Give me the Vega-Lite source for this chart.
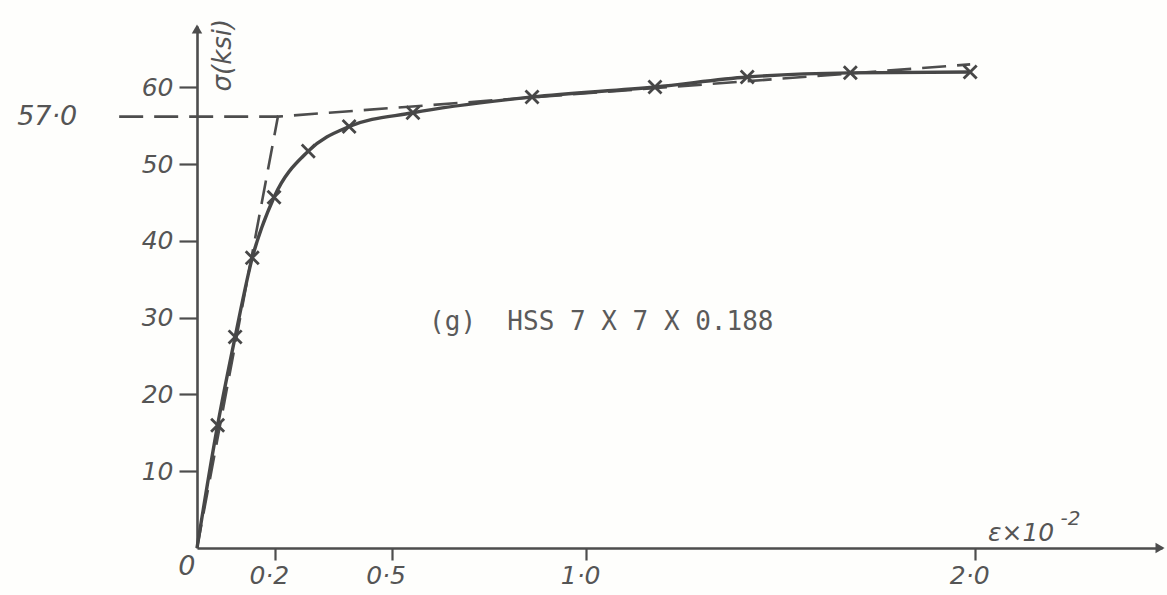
{
  "$schema": "https://vega.github.io/schema/vega-lite/v6.json",
  "width": 965,
  "height": 522,
  "autosize": {"type": "none"},
  "padding": {"left": 197, "top": 26, "right": 5, "bottom": 47},
  "background": "#fefefc",
  "config": {"view": {"stroke": null}},
  "datasets": {
    "curve": [
      {"strain": 0, "stress": 0},
      {"strain": 0.053, "stress": 16.0},
      {"strain": 0.098, "stress": 27.5},
      {"strain": 0.142, "stress": 37.8},
      {"strain": 0.198, "stress": 45.7},
      {"strain": 0.286, "stress": 51.7},
      {"strain": 0.391, "stress": 54.9},
      {"strain": 0.555, "stress": 56.7},
      {"strain": 0.861, "stress": 58.75},
      {"strain": 1.177, "stress": 60.05},
      {"strain": 1.414, "stress": 61.35},
      {"strain": 1.679, "stress": 61.9},
      {"strain": 1.987, "stress": 62.0}
    ],
    "bilinear": [
      {"seg": "model", "strain": 0, "stress": 0},
      {"seg": "model", "strain": 0.208, "stress": 56.2},
      {"seg": "model", "strain": 1.987, "stress": 63.0},
      {"seg": "yield", "strain": -0.2, "stress": 56.2},
      {"seg": "yield", "strain": 0.208, "stress": 56.2}
    ]
  },
  "layer": [
    {
      "data": {"name": "bilinear"},
      "mark": {"type": "line", "stroke": "#4d4d4d", "strokeWidth": 2.6, "strokeDash": [24, 11]},
      "encoding": {
        "x": {
          "field": "strain", "type": "quantitative",
          "scale": {"domain": [0, 2.48], "nice": false, "zero": false},
          "axis": {
            "title": null, "grid": false, "values": [0.2, 0.5, 1.0, 2.0], "format": ".1f",
            "labelExpr": "replace(datum.label, '.', '·')",
            "domainColor": "#4d4d4d", "domainWidth": 2.6,
            "tickColor": "#4d4d4d", "tickWidth": 2.2, "tickSize": 12,
            "labelFont": "DejaVu Sans", "labelFontStyle": "italic", "labelFontSize": 25,
            "labelColor": "#555555", "labelPadding": 3, "labelOffset": -6
          }
        },
        "y": {
          "field": "stress", "type": "quantitative",
          "scale": {"domain": [0, 68], "nice": false, "zero": false},
          "axis": {
            "title": null, "grid": false, "values": [10, 20, 30, 40, 50, 60], "format": "d",
            "domainColor": "#4d4d4d", "domainWidth": 2.6,
            "tickColor": "#4d4d4d", "tickWidth": 2.2, "tickSize": 18,
            "labelFont": "DejaVu Sans", "labelFontStyle": "italic", "labelFontSize": 25,
            "labelColor": "#555555", "labelPadding": 6
          }
        },
        "detail": {"field": "seg"}
      }
    },
    {
      "data": {"name": "curve"},
      "mark": {"type": "line", "interpolate": "monotone", "stroke": "#474747", "strokeWidth": 3.4},
      "encoding": {
        "x": {"field": "strain", "type": "quantitative"},
        "y": {"field": "stress", "type": "quantitative"}
      }
    },
    {
      "data": {"name": "curve"},
      "transform": [{"filter": "datum.strain > 0"}],
      "mark": {"type": "point", "shape": "M-1,-1L1,1M-1,1L1,-1", "filled": false, "stroke": "#474747", "strokeWidth": 2.8, "size": 170, "opacity": 1},
      "encoding": {
        "x": {"field": "strain", "type": "quantitative"},
        "y": {"field": "stress", "type": "quantitative"}
      }
    },
    {
      "data": {"values": [
        {"strain": 2.475, "stress": 0, "dir": "x"},
        {"strain": 0, "stress": 67.6, "dir": "y"}
      ]},
      "mark": {"type": "point", "filled": true, "color": "#4d4d4d", "size": 110, "opacity": 1},
      "encoding": {
        "x": {"field": "strain", "type": "quantitative"},
        "y": {"field": "stress", "type": "quantitative"},
        "shape": {"field": "dir", "type": "nominal", "scale": {"domain": ["x", "y"], "range": ["triangle-right", "triangle-up"]}, "legend": null}
      }
    },
    {
      "data": {"values": [
        {"strain": -0.385, "stress": 56.2, "text": "57·0"},
        {"strain": -0.026, "stress": -2.5, "text": "0"}
      ]},
      "mark": {"type": "text", "font": "DejaVu Sans", "fontStyle": "italic", "fontSize": 27, "color": "#555555", "align": "center", "baseline": "middle"},
      "encoding": {
        "x": {"field": "strain", "type": "quantitative"},
        "y": {"field": "stress", "type": "quantitative"},
        "text": {"field": "text"}
      }
    },
    {
      "data": {"values": [{"strain": 0.066, "stress": 64.2, "text": "σ(ksi)"}]},
      "mark": {"type": "text", "font": "DejaVu Sans", "fontStyle": "italic", "fontSize": 26, "color": "#555555", "align": "center", "baseline": "middle", "angle": 270},
      "encoding": {
        "x": {"field": "strain", "type": "quantitative"},
        "y": {"field": "stress", "type": "quantitative"},
        "text": {"field": "text"}
      }
    },
    {
      "data": {"values": [{"strain": 2.118, "stress": 1.95, "text": "ε×10"}]},
      "mark": {"type": "text", "font": "DejaVu Sans", "fontStyle": "italic", "fontSize": 25, "color": "#555555", "align": "center", "baseline": "middle"},
      "encoding": {
        "x": {"field": "strain", "type": "quantitative"},
        "y": {"field": "stress", "type": "quantitative"},
        "text": {"field": "text"}
      }
    },
    {
      "data": {"values": [{"strain": 2.245, "stress": 3.8, "text": "-2"}]},
      "mark": {"type": "text", "font": "DejaVu Sans", "fontStyle": "italic", "fontSize": 20, "color": "#555555", "align": "center", "baseline": "middle"},
      "encoding": {
        "x": {"field": "strain", "type": "quantitative"},
        "y": {"field": "stress", "type": "quantitative"},
        "text": {"field": "text"}
      }
    },
    {
      "data": {"values": [{"strain": 1.039, "stress": 29.4, "text": "(g)\u00a0\u00a0HSS 7 X 7 X 0.188"}]},
      "mark": {"type": "text", "font": "DejaVu Sans Mono", "fontSize": 26, "color": "#5a5a5a", "align": "center", "baseline": "middle"},
      "encoding": {
        "x": {"field": "strain", "type": "quantitative"},
        "y": {"field": "stress", "type": "quantitative"},
        "text": {"field": "text"}
      }
    }
  ]
}
